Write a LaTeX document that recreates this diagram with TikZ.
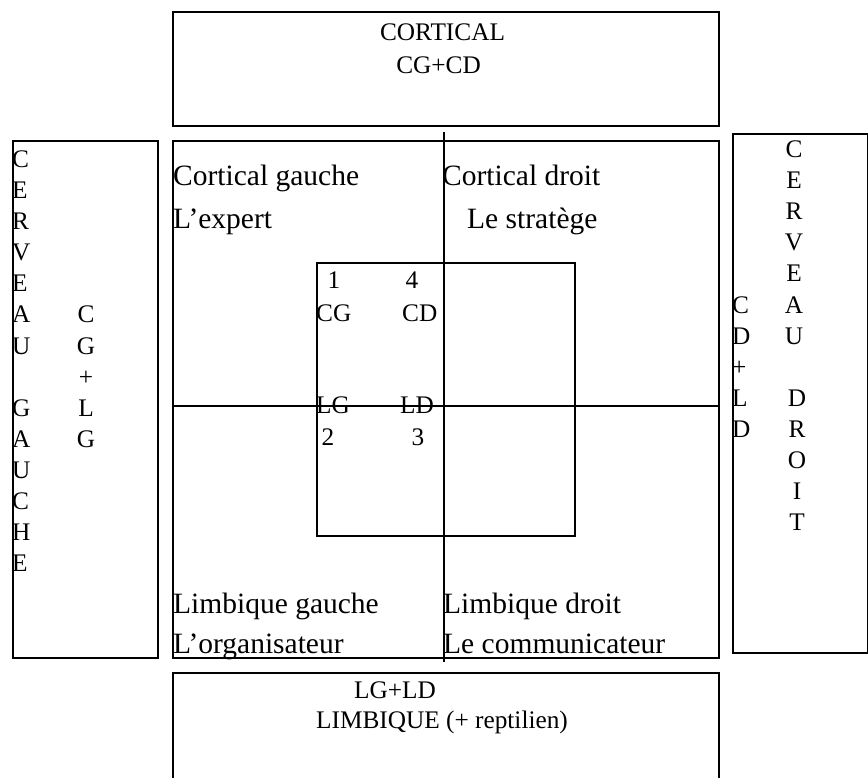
\documentclass[tikz,border=0pt]{standalone}
\usepackage{fontspec}
\setmainfont{Liberation Serif}
\begin{document}
\begin{tikzpicture}[x=1pt,y=-1pt,
  frame/.style={draw, line width=1.6pt, inner sep=0pt, anchor=north west},
  axis/.style={line width=1.6pt},
  sm/.style={font=\fontsize{25.3}{29}\selectfont, inner sep=0pt},
  lg/.style={font=\fontsize{29.5}{34}\selectfont, inner sep=0pt}]
\useasboundingbox (0,0) rectangle (868,778);
% boxes
\node[frame, minimum width=546pt, minimum height=114pt] (topbox) at (172,11) {};
\node[frame, minimum width=546pt, minimum height=517pt] (mainbox) at (172,140) {};
\node[frame, minimum width=145pt, minimum height=517pt] (leftbox) at (12,140) {};
\node[frame, minimum width=135pt, minimum height=519pt] (rightbox) at (732,133) {};
\node[frame, minimum width=546pt, minimum height=125pt] (botbox) at (172,672) {};
\node[frame, minimum width=258pt, minimum height=273pt] (inner) at (316,262) {};
% axes
\coordinate (vtop) at (444,132);
\coordinate (vbot) at (444,662);
\coordinate (hl) at (172,406);
\coordinate (hr) at (718,406);
\draw[axis] (vtop) -- (vbot);
\draw[axis] (hl) -- (hr);
% top / bottom texts
\node[sm, anchor=base] (cort) at (442.5,41) {CORTICAL};
\node[sm, anchor=base] (cgcd) at (438.6,74) {CG+CD};
\node[sm, anchor=base] (lgld) at (395,698) {LG+LD};
\node[sm, anchor=base] (limb) at (442,728) {LIMBIQUE (+ reptilien)};
% quadrant texts
\node[lg, anchor=base west] (cgau) at (173,186) {Cortical gauche};
\node[lg, anchor=base west] (expert) at (173,229) {L’expert};
\node[lg, anchor=base west] (cdro) at (442,186) {Cortical droit};
\node[lg, anchor=base west] (strat) at (467,229) {Le stratège};
\node[lg, anchor=base west] (lgau) at (173,613) {Limbique gauche};
\node[lg, anchor=base west] (organ) at (173,653) {L’organisateur};
\node[lg, anchor=base west] (ldro) at (443,613) {Limbique droit};
\node[lg, anchor=base west] (commu) at (443,653) {Le communicateur};
% inner square texts
\node[sm, anchor=base] (n1) at (334,289) {1};
\node[sm, anchor=base] (n4) at (412,289) {4};
\node[sm, anchor=base west] (icg) at (316,321) {CG};
\node[sm, anchor=base west] (icd) at (402,321) {CD};
\node[sm, anchor=base west] (ilg) at (316,413) {LG};
\node[sm, anchor=base west] (ild) at (400,413) {LD};
\node[sm, anchor=base] (n2) at (328,445) {2};
\node[sm, anchor=base] (n3) at (418,445) {3};
% left box letters
\foreach \l/\i in {C/0,E/1,R/2,V/3,E/4,A/5,U/6,G/8,A/9,U/10,C/11,H/12,E/13}
  \node[sm, anchor=base west] (la\i) at (12,168+31*\i) {\l};
\foreach \l/\i in {C/5,G/6,+/7,L/8,G/9}
  \node[sm, anchor=base] (lb\i) at (86,168+31*\i) {\l};
% right box letters
\foreach \l/\i in {C/5,D/6,+/7,L/8,D/9}
  \node[sm, anchor=base west] (ra\i) at (732,158+31*\i) {\l};
\foreach \l/\i in {C/0,E/1,R/2,V/3,E/4,A/5,U/6}
  \node[sm, anchor=base] (rb\i) at (794,158+31*\i) {\l};
\foreach \l/\i in {D/8,R/9,O/10,I/11,T/12}
  \node[sm, anchor=base] (rb\i) at (797,158+31*\i) {\l};
\end{tikzpicture}
\end{document}
